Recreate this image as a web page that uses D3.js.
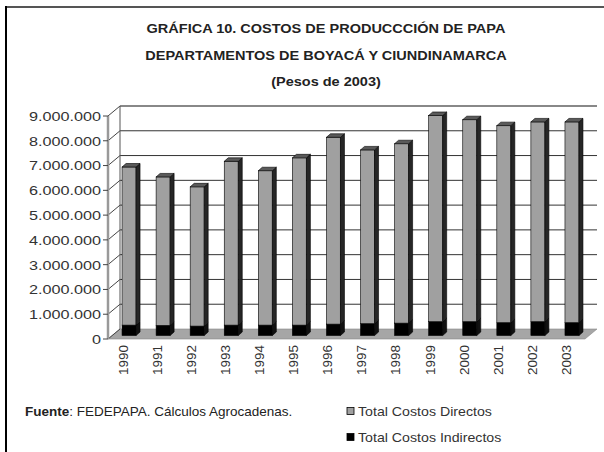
<!DOCTYPE html>
<html>
<head>
<meta charset="utf-8">
<script src="https://d3js.org/d3.v7.min.js"></script>
<style>
  body { margin: 0; background: #fff; }
  svg { display: block; font-family: "Liberation Sans", Arial, sans-serif; }
</style>
</head>
<body>
<svg id="chart" width="604" height="452"></svg>
<script>
  // data (pesos de 2003)
  const years = ["1990","1991","1992","1993","1994","1995","1996","1997","1998","1999","2000","2001","2002","2003"];
  const costosIndirectos = [420000, 410000, 380000, 420000, 420000, 420000, 460000, 480000, 500000, 560000, 560000, 520000, 560000, 520000];
  const costosDirectos = [6380000, 5990000, 5620000, 6610000, 6230000, 6750000, 7540000, 7010000, 7240000, 8320000, 8150000, 7950000, 8060000, 8100000];
  const yTicks = [0, 1000000, 2000000, 3000000, 4000000, 5000000, 6000000, 7000000, 8000000, 9000000];
  const titleLines = ["GRÁFICA 10. COSTOS DE PRODUCCCIÓN DE PAPA", "DEPARTAMENTOS DE BOYACÁ Y CIUNDINAMARCA", "(Pesos de 2003)"];
  const seriesNames = ["Total Costos Directos", "Total Costos Indirectos"];

  const svg = d3.select("#chart");

  // the scanned chart is a bit wider than normal type, so widen text a little
  function stretch(sel, k) {
    sel.each(function() {
      const w = this.getComputedTextLength();
      d3.select(this).attr("textLength", w * k).attr("lengthAdjust", "spacingAndGlyphs");
    });
  }

  // 3d depth of the walls and of the bars
  const depthX = 12, depthY = -10;
  const barDX = 4, barDY = -3.5;
  const barW = 14;

  const x = d3.scaleBand().domain(years).range([108, 585]);
  const y = d3.scaleLinear().domain([0, 9000000]).range([339, 116]);

  const fmt = d => d === 0 ? "0" : d3.format(",")(d).replace(/,/g, ".");

  // frame
  svg.append("line").attr("x1", 6).attr("x2", 604).attr("y1", 7).attr("y2", 7)
    .attr("stroke", "#555").attr("stroke-width", 2);
  svg.append("line").attr("x1", 6).attr("x2", 6).attr("y1", 6).attr("y2", 452)
    .attr("stroke", "#000").attr("stroke-width", 2);

  // title
  svg.selectAll("text.title").data(titleLines).join("text")
    .attr("class", "title")
    .attr("x", 326).attr("y", (d, i) => 33 + i * 26.5)
    .attr("text-anchor", "middle")
    .attr("font-size", 12.5)
    .attr("font-weight", "bold")
    .attr("fill", "#222")
    .text(d => d)
    .call(stretch, 1.16);

  const x0 = x.range()[0], x1 = x.range()[1];

  // floor
  svg.append("path")
    .attr("d", `M${x0},${y(0)} L${x1},${y(0)} L${x1 + depthX},${y(0) + depthY} L${x0 + depthX},${y(0) + depthY} Z`)
    .attr("fill", "#a6a6a6").attr("stroke", "#888").attr("stroke-width", 0.6);

  // back wall grid + left wall diagonals
  const grid = svg.append("g");
  grid.selectAll("line.back").data(yTicks.slice(1)).join("line")
    .attr("x1", x0 + depthX).attr("x2", x1 + depthX)
    .attr("y1", d => y(d) + depthY).attr("y2", d => y(d) + depthY)
    .attr("stroke", d => d == 9000000 ? "#888" : "#333")
    .attr("stroke-width", d => d == 9000000 ? 2 : 1);
  grid.selectAll("line.side").data(yTicks).join("line")
    .attr("x1", x0).attr("x2", x0 + depthX)
    .attr("y1", d => y(d)).attr("y2", d => y(d) + depthY)
    .attr("stroke", "#444").attr("stroke-width", 1);
  grid.append("line")
    .attr("x1", x0 + depthX).attr("x2", x0 + depthX)
    .attr("y1", y(0) + depthY).attr("y2", y(9000000) + depthY)
    .attr("stroke", "#555").attr("stroke-width", 1);

  // bars: stacked, indirect at the bottom
  const stackData = years.map((yr, i) => ({ year: yr, indirect: costosIndirectos[i], direct: costosDirectos[i] }));
  const stacked = d3.stack().keys(["indirect", "direct"])(stackData);
  const colors = {
    indirect: { front: "#000", side: "#111" },
    direct: { front: "#a0a0a0", side: "#262626", top: "#5a5a5a" }
  };

  const barsG = svg.append("g");
  years.forEach((yr, i) => {
    const bx = x(yr) + (x.bandwidth() - barW) / 2 + barDX;
    stacked.forEach(layer => {
      const seg = layer[i];
      const c = colors[layer.key];
      const yTop = y(seg[1]) + barDY, yBot = y(seg[0]) + barDY;
      const g = barsG.append("g");
      // front face
      g.append("rect").attr("x", bx).attr("y", yTop).attr("width", barW).attr("height", yBot - yTop)
        .attr("fill", c.front).attr("stroke", "#000").attr("stroke-width", 0.6);
      // side face
      g.append("path")
        .attr("d", `M${bx + barW},${yTop} L${bx + barW + barDX},${yTop + barDY} L${bx + barW + barDX},${yBot + barDY} L${bx + barW},${yBot} Z`)
        .attr("fill", c.side).attr("stroke", "#000").attr("stroke-width", 0.6);
      // top face
      if (layer.key == "direct") {
        g.append("path")
          .attr("d", `M${bx},${yTop} L${bx + barDX},${yTop + barDY} L${bx + barW + barDX},${yTop + barDY} L${bx + barW},${yTop} Z`)
          .attr("fill", c.top).attr("stroke", "#000").attr("stroke-width", 0.6);
      }
    });
  });

  // y axis (front edge of the left wall)
  svg.append("line").attr("x1", x0).attr("x2", x0).attr("y1", y(0)).attr("y2", y(9000000))
    .attr("stroke", "#999").attr("stroke-width", 2.5);
  svg.selectAll("line.tick").data(yTicks).join("line")
    .attr("x1", x0 - 5).attr("x2", x0)
    .attr("y1", d => y(d)).attr("y2", d => y(d))
    .attr("stroke", "#444");
  svg.selectAll("text.ylab").data(yTicks).join("text")
    .attr("class", "ylab")
    .attr("x", x0 - 7).attr("y", d => y(d)).attr("dy", "0.36em")
    .attr("text-anchor", "end")
    .attr("font-size", 13.5).attr("fill", "#333")
    .text(fmt)
    .call(stretch, 1.2);

  // x labels, reading upwards
  svg.selectAll("text.xlab").data(years).join("text")
    .attr("class", "xlab")
    .attr("transform", d => `translate(${x(d) + x.bandwidth() / 2 - 2},345) rotate(-90)`)
    .attr("dy", "0.36em")
    .attr("text-anchor", "end")
    .attr("font-size", 13.5).attr("fill", "#333")
    .text(d => d);

  // source note
  const src = svg.append("text").attr("x", 25).attr("y", 416).attr("font-size", 13.5).attr("fill", "#222");
  src.append("tspan").attr("font-weight", "bold").text("Fuente");
  src.append("tspan").text(": FEDEPAPA. Cálculos Agrocadenas.");

  // legend
  const leg = svg.selectAll("g.leg").data(seriesNames).join("g")
    .attr("class", "leg")
    .attr("transform", (d, i) => `translate(347,${411 + i * 26})`);
  leg.append("rect").attr("x", 0).attr("y", -3.5).attr("width", 7).attr("height", 7)
    .attr("fill", (d, i) => i == 0 ? "#a0a0a0" : "#000").attr("stroke", "#000").attr("stroke-width", 0.8);
  leg.append("text").attr("x", 11).attr("dy", "0.36em")
    .attr("font-size", 13).attr("fill", "#333")
    .text(d => d)
    .call(stretch, 1.09);
</script>
</body>
</html>
